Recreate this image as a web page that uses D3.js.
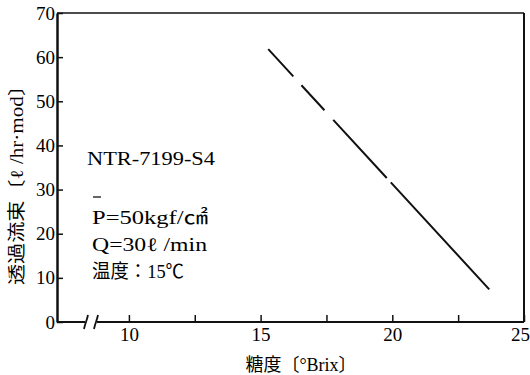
<!DOCTYPE html>
<html>
<head>
<meta charset="utf-8">
<script src="https://cdn.jsdelivr.net/npm/d3@7"></script>
<style>
  html, body { margin: 0; padding: 0; background: #fff; }
  svg { display: block; }
  text { font-family: "Liberation Serif", "Times New Roman", "Noto Sans CJK JP", serif; fill: #000; }
</style>
</head>
<body>
<div id="chart"></div>
<script>
// data
const brix = [15.29, 23.68];          // 糖度 (°Brix)
const flux = [61.8, 7.4];             // 透過流束 (ℓ/hr·mod)
const brixTicks = [10, 12.5, 15, 17.5, 20, 22.5, 25];
const brixLabels = [10, 15, 20, 25];
const fluxTicks = [0, 10, 20, 30, 40, 50, 60, 70];
const noteLines = ["P=50kgf/㎠", "Q=30ℓ /min", "温度：15℃"];

(function() {
  const width = 530, height = 375;
  const svg = d3.select("#chart").append("svg")
    .attr("width", width).attr("height", height);

  const x = d3.scaleLinear().domain([7.27, 25]).range([57, 524]);
  const y = d3.scaleLinear().domain([0, 70]).range([322, 13]);

  // frame (top and right)
  svg.append("line").attr("x1", x(7.27)).attr("x2", x(25)).attr("y1", y(70)).attr("y2", y(70))
    .attr("stroke", "#111").attr("stroke-width", 1.5);
  svg.append("line").attr("x1", x(25)).attr("x2", x(25)).attr("y1", y(70)).attr("y2", y(0))
    .attr("stroke", "#111").attr("stroke-width", 2);

  // y axis
  const ya = svg.append("g").attr("transform", `translate(${x(7.27)},0)`)
    .call(d3.axisLeft(y).tickValues(fluxTicks).tickSizeInner(-6).tickSizeOuter(0).tickPadding(2));
  ya.select(".domain").attr("stroke", "#111").attr("stroke-width", 2.5);
  ya.selectAll(".tick line").attr("stroke", "#111").attr("stroke-width", 1.5);
  ya.selectAll("text").attr("font-size", 19).attr("font-family", null).attr("fill", "#000");

  // x axis (with break)
  const xa = svg.append("g").attr("transform", `translate(0,${y(0)})`)
    .call(d3.axisBottom(x).tickValues(brixTicks)
      .tickFormat(d => brixLabels.includes(d) ? d : "")
      .tickSizeInner(-7).tickSizeOuter(0).tickPadding(6));
  xa.select(".domain").remove();
  xa.selectAll(".tick line").attr("stroke", "#111").attr("stroke-width", 1.5);
  xa.selectAll("text").attr("font-size", 19).attr("font-family", null).attr("fill", "#000");
  xa.selectAll(".tick").filter(d => d === 25).select("text").attr("x", -4);
  ya.attr("font-family", null);
  xa.attr("font-family", null);

  const bx1 = 85, bx2 = 97;
  svg.append("line").attr("x1", x(7.27)).attr("x2", bx1).attr("y1", y(0)).attr("y2", y(0))
    .attr("stroke", "#111").attr("stroke-width", 2);
  svg.append("line").attr("x1", bx2).attr("x2", x(25)).attr("y1", y(0)).attr("y2", y(0))
    .attr("stroke", "#111").attr("stroke-width", 2);
  [bx1 + 1, bx2 - 1].forEach(bx => {
    svg.append("path")
      .attr("d", `M${bx - 2},${y(0) + 7} C${bx - 1},${y(0) + 2} ${bx + 1},${y(0) - 2} ${bx + 2},${y(0) - 7}`)
      .attr("fill", "none").attr("stroke", "#111").attr("stroke-width", 1.8);
  });

  // data line
  const pts = brix.map((b, i) => [x(b), y(flux[i])]);
  svg.append("path").datum(pts)
    .attr("d", d3.line())
    .attr("fill", "none").attr("stroke", "#111").attr("stroke-width", 2)
    .attr("stroke-dasharray", "37,12,34,13,79,6,400");

  // annotation
  svg.append("text").attr("x", 87).attr("y", 165).attr("font-size", 19)
    .attr("textLength", 128).attr("lengthAdjust", "spacingAndGlyphs")
    .text("NTR-7199-S4");
  svg.append("line").attr("x1", 93).attr("x2", 101).attr("y1", 197).attr("y2", 197)
    .attr("stroke", "#111").attr("stroke-width", 1.3);
  const noteW = [116, 115, 92];
  noteLines.forEach((t, i) => {
    svg.append("text").attr("x", 92).attr("y", 224 + i * 27).attr("font-size", 19)
      .attr("textLength", noteW[i]).attr("lengthAdjust", "spacingAndGlyphs")
      .text(t);
  });

  // axis titles
  svg.append("text").attr("transform", `translate(23,180) rotate(-90)`)
    .attr("text-anchor", "middle").attr("font-size", 18)
    .attr("textLength", 210).attr("lengthAdjust", "spacingAndGlyphs")
    .text("透過流束〔ℓ /hr·mod〕");
  svg.append("text").attr("x", 301).attr("y", 371)
    .attr("text-anchor", "middle").attr("font-size", 18)
    .text("糖度〔°Brix〕");
})();
</script>
</body>
</html>
